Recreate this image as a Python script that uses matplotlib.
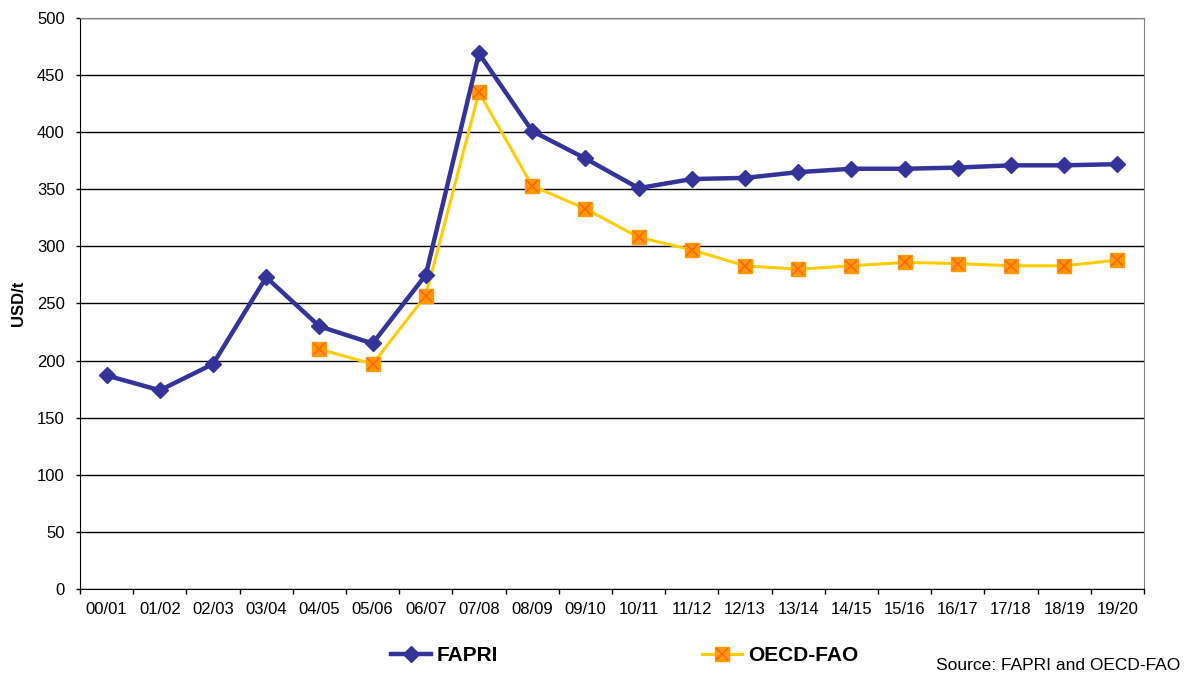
import numpy as np
import matplotlib.pyplot as plt
from matplotlib.lines import Line2D

seasons = ['00/01', '01/02', '02/03', '03/04', '04/05', '05/06', '06/07', '07/08',
           '08/09', '09/10', '10/11', '11/12', '12/13', '13/14', '14/15', '15/16',
           '16/17', '17/18', '18/19', '19/20']
fapri = [187, 174, 197, 273, 230, 215, 275, 469, 401, 377, 351, 359, 360, 365,
         368, 368, 369, 371, 371, 372]
# OECD-FAO projections start in 04/05
oecd_fao = [None, None, None, None, 210, 197, 257, 435, 353, 333, 308, 297, 283, 280,
            283, 286, 285, 283, 283, 288]

plt.rcParams['font.family'] = ['Liberation Sans', 'DejaVu Sans']

fig = plt.figure(figsize=(11.9, 6.74), dpi=100)
ax = fig.add_axes([80 / 1190, 1 - 589 / 674, 1064 / 1190, 571 / 674])

x = np.arange(len(seasons))
oecd = np.array([np.nan if v is None else v for v in oecd_fao], dtype=float)

ax.plot(x, oecd, color='#FFCC00', lw=2.2, zorder=3)
ax.plot(x, oecd, ls='none', marker='s', ms=10, mfc='#FF9900', mec='#FF9900', zorder=4)
ax.plot(x, oecd, ls='none', marker='x', ms=8, mew=1.2, color='#FF6600', zorder=5)
ax.plot(x, fapri, color='#333399', lw=3.2, marker='D', ms=8.5, zorder=6)

ax.set_xlim(-0.5, len(seasons) - 0.5)
ax.set_ylim(0, 500)
ax.set_yticks(range(0, 501, 50))
ax.set_xticks(x)
ax.set_xticklabels(seasons)
ax.set_xticks(np.arange(-0.5, len(seasons)), minor=True)
ax.tick_params(axis='x', which='major', length=0, labelsize=12, pad=9)
ax.tick_params(axis='x', which='minor', length=3.5, width=1)
ax.tick_params(axis='y', length=3, width=1, labelsize=12, pad=8)
ax.yaxis.grid(True, color='black', lw=1)
ax.set_axisbelow(True)
for side in ['top', 'right']:
    ax.spines[side].set_color('#808080')
for side in ['left', 'bottom']:
    ax.spines[side].set_color('black')
ax.set_ylabel('USD/t', fontweight='bold', fontsize=12, labelpad=8)

handles = [
    Line2D([], [], color='#333399', lw=3.2, marker='D', ms=8.5),
    (Line2D([], [], color='#FFCC00', lw=2.2, marker='s', ms=10, mfc='#FF9900', mec='#FF9900'),
     Line2D([], [], ls='none', marker='x', ms=8, mew=1.2, color='#FF6600')),
]
fig.legend(handles, ['FAPRI', 'OECD-FAO'], loc='center', bbox_to_anchor=(0.525, 0.027),
           ncol=2, frameon=False, handlelength=1.9, handletextpad=0.3, columnspacing=9.8,
           prop={'weight': 'bold', 'size': 15})

fig.text(0.992, 0.002, 'Source: FAPRI and OECD-FAO', ha='right', va='bottom', fontsize=12.5)

fig.savefig('out.png', dpi=100)
